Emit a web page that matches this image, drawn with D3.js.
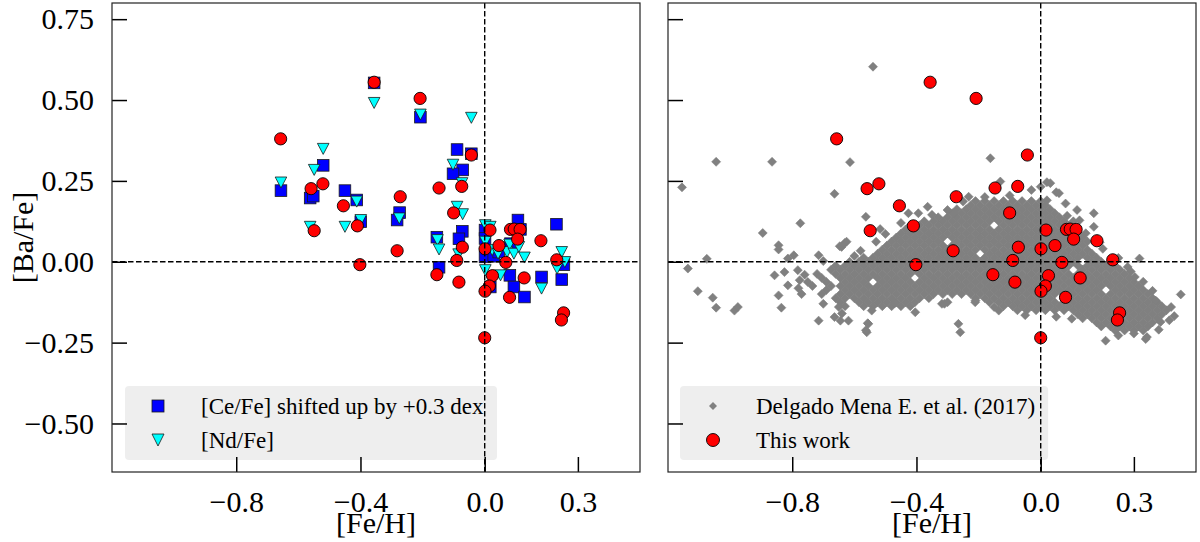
<!DOCTYPE html>
<html lang="en">
<head>
<meta charset="UTF-8">
<title>[Ba/Fe] vs [Fe/H]</title>
<script src="https://cdn.jsdelivr.net/npm/d3@7"></script>
<style>
    html, body { margin: 0; padding: 0; background: #fff; }
    text { font-family: "Liberation Serif", "Times New Roman", serif; fill: #000; }
</style>
</head>
<body>
<svg id="chart" width="1200" height="542"></svg>
<script>
// tick values
const xTicks = [-0.8, -0.4, 0.0, 0.3]
const yTicks = [0.75, 0.5, 0.25, 0.0, -0.25, -0.5]

// this work: [Fe/H] and [Ba/Fe]
const workFeh = [-0.657, -0.356, -0.208, -0.043, -0.559, -0.521, -0.455, -0.549, -0.410, -0.272,
    -0.282, -0.402, -0.147, -0.074, -0.100, -0.072, -0.090, -0.154, -0.083, 0.017,
    0.001, 0.046, 0.083, 0.095, 0.114, 0.106, 0.181, 0.232, 0.068, 0.025,
    0.127, 0.015, 0.001, 0.080, 0.254, 0.247, 0.000]
const workBa = [0.380, 0.555, 0.505, 0.330, 0.226, 0.241, 0.173, 0.096, 0.111, 0.201,
    0.034, -0.009, 0.228, 0.233, 0.151, 0.045, 0.004, -0.040, -0.063, 0.098,
    0.040, 0.050, 0.100, 0.101, 0.100, 0.070, 0.065, 0.006, -0.002, -0.043,
    -0.050, -0.075, -0.091, -0.110, -0.158, -0.180, -0.235]

// [Ce/Fe] + 0.3 against [Fe/H]
const ceFeh = [-0.656, -0.562, -0.552, -0.520, -0.450, -0.412, -0.399, -0.356, -0.274, -0.282,
    -0.207, -0.089, -0.043, -0.071, -0.102, -0.154, -0.072, -0.083, -0.147, 0.001,
    0.001, 0.001, 0.029, 0.107, 0.115, 0.231, 0.081, 0.094, 0.128, 0.183,
    0.248, 0.255, 0.018, 0.083, 0.045]
const ceVal = [0.220, 0.197, 0.203, 0.298, 0.220, 0.191, 0.124, 0.553, 0.152, 0.129,
    0.447, 0.347, 0.334, 0.284, 0.272, 0.076, 0.094, 0.071, -0.017, 0.098,
    0.072, 0.015, 0.017, 0.129, 0.100, 0.116, -0.042, -0.078, -0.109, -0.047,
    -0.055, -0.009, -0.078, 0.056, 0.030]

// [Nd/Fe] against [Fe/H]
const ndFeh = [-0.656, -0.520, -0.549, -0.562, -0.450, -0.412, -0.399, -0.356, -0.207, -0.043,
    -0.275, -0.102, -0.073, -0.089, -0.071, -0.152, -0.147, 0.002, 0.002, -0.084,
    0.018, 0.002, 0.024, 0.043, 0.072, 0.080, 0.094, 0.110, 0.128, 0.051,
    0.183, 0.248, 0.258, 0.233]
const ndVal = [0.245, 0.349, 0.284, 0.108, 0.108, 0.186, 0.129, 0.491, 0.455, 0.445,
    0.134, 0.300, 0.243, 0.170, 0.147, 0.067, 0.038, 0.113, -0.026, 0.023,
    0.108, 0.062, 0.036, 0.025, 0.030, 0.053, 0.025, 0.046, 0.013, -0.042,
    -0.083, 0.030, -0.001, -0.021]

// Delgado Mena et al. (2017): scattered stars, [Fe/H, Ba/Fe]
const delgadoSparse = [
    [-1.155, 0.230], [-1.045, 0.309], [-0.865, 0.309], [-0.664, 0.210], [-0.774, 0.119],
    [-0.895, 0.089], [-0.844, 0.051], [-0.844, 0.038], [-1.075, 0.009], [-1.136, -0.021],
    [-1.104, -0.091], [-1.056, -0.111], [-1.045, -0.142], [-0.986, -0.151], [-0.975, -0.140],
    [-0.835, -0.142], [-0.844, -0.104], [-0.857, -0.042], [-0.825, -0.032], [-0.782, -0.026],
    [-0.776, -0.057], [-0.814, -0.073], [-0.814, 0.010], [-0.795, 0.020], [-0.715, 0.020],
    [-0.647, 0.048], [-0.631, 0.058], [-0.715, -0.182], [-0.664, -0.171], [-0.650, -0.140],
    [-0.640, -0.160], [-0.645, -0.182], [-0.540, 0.603], [-0.614, 0.308], [-0.162, 0.320],
    [-0.130, 0.248], [-0.563, 0.139], [-0.517, 0.101], [-0.530, 0.062], [-0.625, 0.062],
    [-0.641, 0.046], [-0.426, 0.150], [-0.394, 0.150], [-0.364, 0.170], [-0.619, -0.182],
    [-0.544, -0.151], [-0.555, -0.192], [-0.560, -0.218], [-0.404, -0.156], [-0.318, -0.130],
    [-0.265, -0.192], [-0.259, -0.218], [-0.211, -0.125], [-0.135, -0.151], [0.451, -0.101],
    [0.318, 0.010], [0.303, -0.047], [0.209, -0.244], [0.338, -0.239], [0.171, 0.150],
    [0.117, 0.160], [0.171, 0.108], [0.020, 0.246], [0.050, 0.215], [0.000, 0.232],
    [-0.030, 0.222], [0.414, -0.181], [0.386, -0.186], [0.342, -0.233], [0.370, -0.120],
    [0.280, -0.016], [0.031, 0.243], [0.059, 0.212], [-0.210, -0.120], [-0.310, -0.130],
    [-0.557, -0.190], [-0.563, -0.212], [-0.180, 0.200], [-0.100, 0.205], [0.080, 0.180],
    [0.200, 0.040], [0.250, 0.012], [0.290, -0.030], [0.330, -0.062], [0.360, -0.090],
    [0.145, 0.088], [0.420, -0.140], [0.430, -0.168], [0.380, -0.210], [0.050, -0.170],
    [0.100, -0.176], [-0.050, -0.165], [-0.300, -0.125], [0.250, -0.228], [0.300, -0.222],
    [-0.250, 0.186], [-0.300, 0.160], [-0.350, 0.145], [-0.450, 0.120], [-0.500, 0.086],
    [0.085, 0.142], [0.125, 0.128], [-0.232, 0.201], [-0.580, 0.034], [-0.600, 0.018],
    [-0.700, 0.002], [-0.760, -0.040], [-0.780, -0.082], [-0.770, -0.100], [-0.700, -0.130],
    [-0.470, -0.128], [-0.150, -0.140], [0.020, 0.190], [-0.280, 0.150], [0.190, 0.060]
]

// Delgado Mena et al. (2017): dense part, read row by row as [Ba/Fe, [Fe/H ...]]
const delgadoRows = [
    [0.1875, [-0.21, -0.18, -0.15, -0.12, -0.09, -0.06, -0.03, 0.00]],
    [0.175, [-0.225, -0.195, -0.165, -0.135, -0.105, -0.075, -0.045, -0.015, 0.015]],
    [0.1625, [-0.27, -0.24, -0.21, -0.18, -0.15, -0.12, -0.09, -0.06, -0.03, 0.00, 0.03]],
    [0.15, [-0.285, -0.255, -0.225, -0.195, -0.165, -0.135, -0.105, -0.075, -0.045, -0.015, 0.015, 0.045]],
    [0.1375, [-0.33, -0.30, -0.27, -0.24, -0.21, -0.18, -0.15, -0.12, -0.09, -0.06, -0.03, 0.00, 0.03, 0.06]],
    [0.125, [-0.375, -0.345, -0.315, -0.285, -0.255, -0.225, -0.195, -0.165, -0.135, -0.105, -0.075, -0.045, -0.015, 0.015, 0.045, 0.075, 0.105]],
    [0.1125, [-0.42, -0.39, -0.36, -0.33, -0.30, -0.27, -0.24, -0.21, -0.18, -0.12, -0.09, -0.06, -0.03, 0.00, 0.03, 0.06, 0.09]],
    [0.10, [-0.435, -0.405, -0.375, -0.345, -0.315, -0.285, -0.255, -0.225, -0.195, -0.165, -0.135, -0.105, -0.075, -0.045, -0.015, 0.015, 0.045, 0.075, 0.105]],
    [0.0875, [-0.45, -0.42, -0.39, -0.36, -0.33, -0.30, -0.27, -0.24, -0.21, -0.18, -0.15, -0.12, -0.09, -0.06, -0.03, 0.00, 0.03, 0.06, 0.09, 0.12]],
    [0.075, [-0.465, -0.435, -0.405, -0.375, -0.345, -0.315, -0.285, -0.255, -0.225, -0.195, -0.165, -0.135, -0.105, -0.075, -0.045, -0.015, 0.015, 0.045, 0.075, 0.105, 0.135]],
    [0.0625, [-0.48, -0.45, -0.42, -0.39, -0.36, -0.33, -0.27, -0.24, -0.21, -0.18, -0.15, -0.12, -0.09, -0.06, -0.03, 0.00, 0.03, 0.06, 0.09, 0.12, 0.15]],
    [0.05, [-0.495, -0.465, -0.435, -0.405, -0.375, -0.345, -0.315, -0.285, -0.255, -0.225, -0.195, -0.165, -0.135, -0.105, -0.075, -0.045, -0.015, 0.015, 0.045, 0.075, 0.105, 0.135]],
    [0.0375, [-0.51, -0.48, -0.45, -0.42, -0.39, -0.36, -0.33, -0.30, -0.27, -0.24, -0.21, -0.18, -0.15, -0.12, -0.09, -0.06, -0.03, 0.00, 0.03, 0.06, 0.09, 0.12, 0.15]],
    [0.025, [-0.525, -0.495, -0.465, -0.435, -0.405, -0.375, -0.345, -0.315, -0.285, -0.255, -0.225, -0.165, -0.135, -0.105, -0.075, -0.045, -0.015, 0.015, 0.045, 0.075, 0.105, 0.135, 0.165]],
    [0.0125, [-0.57, -0.54, -0.51, -0.48, -0.45, -0.42, -0.39, -0.36, -0.33, -0.30, -0.27, -0.24, -0.21, -0.18, -0.15, -0.12, -0.09, -0.06, -0.03, 0.00, 0.03, 0.06, 0.09, 0.12, 0.15, 0.18]],
    [0.0, [-0.615, -0.585, -0.555, -0.525, -0.495, -0.465, -0.435, -0.405, -0.375, -0.345, -0.315, -0.285, -0.255, -0.225, -0.195, -0.165, -0.135, -0.105, -0.075, -0.045, -0.015, 0.015, 0.045, 0.075, 0.105, 0.165, 0.195, 0.225]],
    [-0.0125, [-0.66, -0.63, -0.60, -0.57, -0.54, -0.51, -0.48, -0.45, -0.42, -0.39, -0.36, -0.33, -0.30, -0.27, -0.24, -0.21, -0.18, -0.15, -0.12, -0.09, -0.06, -0.03, 0.00, 0.03, 0.06, 0.09, 0.12, 0.15, 0.18, 0.21, 0.24]],
    [-0.025, [-0.675, -0.645, -0.615, -0.585, -0.555, -0.525, -0.495, -0.465, -0.435, -0.405, -0.375, -0.345, -0.315, -0.285, -0.255, -0.225, -0.195, -0.165, -0.135, -0.105, -0.075, -0.045, -0.015, 0.015, 0.045, 0.075, 0.135, 0.165, 0.195, 0.225, 0.255]],
    [-0.0375, [-0.72, -0.66, -0.63, -0.60, -0.57, -0.54, -0.51, -0.48, -0.45, -0.42, -0.39, -0.36, -0.33, -0.30, -0.27, -0.24, -0.21, -0.18, -0.15, -0.12, -0.09, -0.06, -0.03, 0.00, 0.03, 0.06, 0.09, 0.12, 0.15, 0.18, 0.21, 0.24, 0.27]],
    [-0.05, [-0.705, -0.645, -0.615, -0.585, -0.555, -0.525, -0.495, -0.465, -0.435, -0.375, -0.345, -0.315, -0.285, -0.255, -0.225, -0.195, -0.165, -0.135, -0.105, -0.075, -0.045, -0.015, 0.015, 0.045, 0.075, 0.105, 0.135, 0.165, 0.195, 0.225, 0.255, 0.285]],
    [-0.0625, [-0.75, -0.69, -0.63, -0.60, -0.57, -0.51, -0.48, -0.45, -0.42, -0.39, -0.36, -0.33, -0.30, -0.27, -0.24, -0.21, -0.18, -0.15, -0.12, -0.09, -0.06, -0.03, 0.00, 0.03, 0.06, 0.09, 0.12, 0.15, 0.18, 0.21, 0.24, 0.27, 0.30]],
    [-0.075, [-0.735, -0.675, -0.645, -0.615, -0.585, -0.555, -0.525, -0.495, -0.465, -0.435, -0.405, -0.375, -0.345, -0.315, -0.285, -0.255, -0.225, -0.195, -0.165, -0.135, -0.105, -0.075, -0.045, -0.015, 0.015, 0.045, 0.075, 0.105, 0.135, 0.165, 0.195, 0.225, 0.255, 0.285, 0.315]],
    [-0.0875, [-0.69, -0.63, -0.60, -0.57, -0.54, -0.51, -0.48, -0.45, -0.42, -0.39, -0.36, -0.33, -0.30, -0.27, -0.24, -0.21, -0.18, -0.15, -0.12, -0.09, -0.06, -0.03, 0.00, 0.03, 0.06, 0.09, 0.12, 0.15, 0.18, 0.24, 0.27, 0.30, 0.33]],
    [-0.10, [-0.705, -0.645, -0.615, -0.585, -0.555, -0.525, -0.495, -0.465, -0.435, -0.405, -0.375, -0.345, -0.315, -0.285, -0.255, -0.225, -0.195, -0.165, -0.135, -0.105, -0.075, -0.045, -0.015, 0.015, 0.045, 0.075, 0.105, 0.135, 0.165, 0.195, 0.225, 0.255, 0.285, 0.315, 0.345]],
    [-0.1125, [-0.66, -0.63, -0.60, -0.57, -0.54, -0.51, -0.48, -0.45, -0.42, -0.39, -0.36, -0.21, -0.18, -0.15, -0.12, -0.09, -0.06, -0.03, 0.00, 0.03, 0.09, 0.12, 0.15, 0.18, 0.21, 0.24, 0.27, 0.30, 0.33, 0.36]],
    [-0.125, [-0.645, -0.585, -0.555, -0.525, -0.495, -0.465, -0.435, -0.405, -0.165, -0.135, -0.105, -0.075, -0.045, -0.015, 0.015, 0.045, 0.075, 0.105, 0.135, 0.165, 0.195, 0.225, 0.255, 0.285, 0.315, 0.345, 0.375]],
    [-0.1375, [-0.63, -0.57, -0.54, -0.51, -0.48, -0.45, -0.42, -0.12, -0.09, -0.06, -0.03, 0.00, 0.03, 0.06, 0.09, 0.12, 0.15, 0.18, 0.21, 0.24, 0.27, 0.30, 0.33, 0.36, 0.39]],
    [-0.15, [-0.075, -0.045, -0.015, 0.015, 0.045, 0.075, 0.105, 0.135, 0.165, 0.195, 0.225, 0.255, 0.285, 0.315, 0.345, 0.375, 0.405]],
    [-0.1625, [0.12, 0.15, 0.18, 0.21, 0.24, 0.27, 0.30, 0.33, 0.36, 0.39]],
    [-0.175, [0.135, 0.165, 0.195, 0.225, 0.255, 0.285, 0.315, 0.345, 0.375]],
    [-0.1875, [0.18, 0.21, 0.24, 0.27, 0.30, 0.33, 0.36]],
    [-0.20, [0.195, 0.225, 0.255, 0.285, 0.315, 0.345]],
    [-0.2125, [0.24, 0.27, 0.30, 0.33]]
]

const fmtY = d3.format(".2f")
const fmtX = d3.format(".1f")
const serif = '"Liberation Serif", "Times New Roman", serif'

const svg = d3.select("#chart")

// panel boxes
const plotTop = 3, plotBottom = 472
const panels = [
    { id: "left", x0: 112, x1: 640, yLabels: true },
    { id: "right", x0: 668, x1: 1196, yLabels: false }
]

const y = d3.scaleLinear().domain([-0.65, 0.80]).range([plotBottom, plotTop])

const workPts = workFeh.map((d, i) => [d, workBa[i]])
const cePts = ceFeh.map((d, i) => [d, ceVal[i]])
const ndPts = ndFeh.map((d, i) => [d, ndVal[i]])
const delgadoPts = delgadoRows.flatMap(([ba, list]) => list.map(f => [f, ba])).concat(delgadoSparse)

// legend contents for each panel
const legends = {
    left: [
        { label: "[Ce/Fe] shifted up by +0.3 dex", shape: "square" },
        { label: "[Nd/Fe]", shape: "triangle" }
    ],
    right: [
        { label: "Delgado Mena E. et al. (2017)", shape: "diamond" },
        { label: "This work", shape: "circle" }
    ]
}
const legendLeft = { left: 125, right: 680 }

function drawMarker(g, shape, size) {
    if (shape == "square")
        return g.append("rect").attr("x", -size / 2).attr("y", -size / 2)
            .attr("width", size).attr("height", size)
            .attr("fill", "#0000ff").attr("stroke", "#1a1a1a").attr("stroke-width", 0.8)
    if (shape == "triangle")
        return g.append("path").attr("d", `M${-size / 2},${-size / 2}L${size / 2},${-size / 2}L0,${size / 2}Z`)
            .attr("fill", "#00ffff").attr("stroke", "#1a1a1a").attr("stroke-width", 0.8)
    if (shape == "diamond")
        return g.append("path").attr("d", `M0,${-size / 2}L${size / 2},0L0,${size / 2}L${-size / 2},0Z`)
            .attr("fill", "#808080")
    return g.append("circle").attr("r", size / 2)
        .attr("fill", "#ff0000").attr("stroke", "#000").attr("stroke-width", 0.9)
}

panels.forEach(p => {
    const x = d3.scaleLinear().domain([-1.2, 0.5]).range([p.x0, p.x1])
    const g = svg.append("g").attr("id", p.id)

    // legend background (under the axes and reference lines)
    const lg = g.append("g").attr("class", "legend")
    const box = lg.append("rect")
        .attr("x", legendLeft[p.id]).attr("y", 386)
        .attr("height", 74).attr("rx", 4)
        .attr("fill", "#eeeeee")

    const clipId = "clip-" + p.id
    g.append("clipPath").attr("id", clipId)
        .append("rect").attr("x", p.x0).attr("y", plotTop)
        .attr("width", p.x1 - p.x0).attr("height", plotBottom - plotTop)
    const plot = g.append("g").attr("clip-path", `url(#${clipId})`)

    if (p.id == "left") {
        plot.selectAll("rect.ce")
            .data(cePts)
            .join("rect")
            .attr("class", "ce")
            .attr("x", d => x(d[0]) - 5.8)
            .attr("y", d => y(d[1]) - 5.8)
            .attr("width", 11.6).attr("height", 11.6)
            .attr("fill", "#0000ff").attr("stroke", "#1a1a1a").attr("stroke-width", 0.8)

        plot.selectAll("path.nd")
            .data(ndPts)
            .join("path")
            .attr("class", "nd")
            .attr("d", "M-5.8,-5.5L5.8,-5.5L0,5.5Z")
            .attr("transform", d => `translate(${x(d[0])},${y(d[1])})`)
            .attr("fill", "#00ffff").attr("stroke", "#1a1a1a").attr("stroke-width", 0.8)
    } else {
        plot.selectAll("path.dm")
            .data(delgadoPts)
            .join("path")
            .attr("class", "dm")
            .attr("d", "M0,-4.5L4.5,0L0,4.5L-4.5,0Z")
            .attr("transform", d => `translate(${x(d[0])},${y(d[1])})`)
            .attr("fill", "#808080")
            .attr("stroke", "#808080").attr("stroke-width", 0.6)
    }

    plot.selectAll("circle.work")
        .data(workPts)
        .join("circle")
        .attr("class", "work")
        .attr("cx", d => x(d[0]))
        .attr("cy", d => y(d[1]))
        .attr("r", 6.1)
        .attr("fill", "#ff0000").attr("stroke", "#000").attr("stroke-width", 0.9)

    // dashed zero lines
    g.append("line")
        .attr("x1", p.x0).attr("x2", p.x1).attr("y1", y(0)).attr("y2", y(0))
        .attr("stroke", "#000").attr("stroke-width", 1.4).attr("stroke-dasharray", "5.5,2.5")
    g.append("line")
        .attr("x1", x(0)).attr("x2", x(0)).attr("y1", plotTop).attr("y2", plotBottom)
        .attr("stroke", "#000").attr("stroke-width", 1.4).attr("stroke-dasharray", "5.5,2.5")

    // legend entries
    legends[p.id].forEach((e, i) => {
        const cy = 406 + i * 34
        const mx = legendLeft[p.id] + 33
        const m = lg.append("g").attr("transform", `translate(${mx},${cy})`)
        drawMarker(m, e.shape, e.shape == "diamond" ? 8 : (e.shape == "circle" ? 13 : 12))
        lg.append("text")
            .attr("x", legendLeft[p.id] + 76)
            .attr("y", cy + 7.5)
            .attr("font-size", 23)
            .text(e.label)
    })
    const widest = d3.max(lg.selectAll("text").nodes(), n => n.getBBox().x + n.getBBox().width)
    box.attr("width", widest + 13 - legendLeft[p.id])

    // axes with inward ticks
    const xAxis = d3.axisBottom(x).tickValues(xTicks).tickFormat(fmtX)
        .tickSizeInner(-15).tickSizeOuter(0).tickPadding(18.5)
    const gx = g.append("g").attr("transform", `translate(0,${plotBottom})`).call(xAxis)
        .attr("font-family", null).attr("font-size", null)
    gx.select(".domain").remove()
    gx.selectAll(".tick line").attr("stroke", "#000").attr("stroke-width", 1.5)
    gx.selectAll(".tick text").style("font-family", serif).style("font-size", "30px")

    const yAxis = d3.axisLeft(y).tickValues(yTicks)
        .tickFormat(p.yLabels ? fmtY : "")
        .tickSizeInner(-15).tickSizeOuter(0).tickPadding(18)
    const gy = g.append("g").attr("transform", `translate(${p.x0},0)`).call(yAxis)
        .attr("font-family", null).attr("font-size", null)
    gy.select(".domain").remove()
    gy.selectAll(".tick line").attr("stroke", "#000").attr("stroke-width", 1.5)
    gy.selectAll(".tick text").style("font-family", serif).style("font-size", "30px")

    // frame
    g.append("rect")
        .attr("x", p.x0).attr("y", plotTop)
        .attr("width", p.x1 - p.x0).attr("height", plotBottom - plotTop)
        .attr("fill", "none").attr("stroke", "#222").attr("stroke-width", 1.2)

    // x label
    g.append("text")
        .attr("x", (p.x0 + p.x1) / 2).attr("y", 533)
        .attr("text-anchor", "middle")
        .attr("font-size", 30)
        .text("[Fe/H]")
})

// y label
svg.append("text")
    .attr("transform", `translate(33,${(plotTop + plotBottom) / 2}) rotate(-90)`)
    .attr("text-anchor", "middle")
    .attr("font-size", 30)
    .text("[Ba/Fe]")
</script>
</body>
</html>
